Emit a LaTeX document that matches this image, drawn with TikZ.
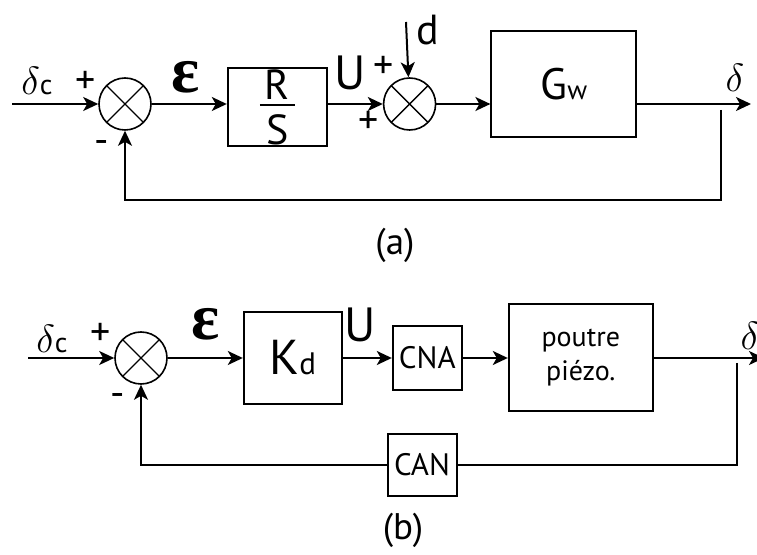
\documentclass[tikz,border=0pt]{standalone}
\usepackage{fontspec}
\setmainfont{PT Sans}
\newfontfamily\grkfont{Liberation Serif}
\usetikzlibrary{arrows.meta,positioning}
\newcommand\eps{{\grkfont\bfseries\fontsize{66}{66}\selectfont ε}}
\newcommand\dlt{\scalebox{1.9}{\fontsize{20.74}{24}\selectfont$\delta$}}
\tikzset{
  % Block
  BLK/.style={rectangle,draw,line width=2pt,inner sep=0pt,align=center,
              font=\fontsize{44}{44}\selectfont},
  % Summing junction
  SUM/.style={circle,draw,line width=1.6pt,minimum size=52pt,inner sep=0pt,
              path picture={
                \draw[line width=1.3pt]
                  (path picture bounding box.north west)--(path picture bounding box.south east)
                  (path picture bounding box.south west)--(path picture bounding box.north east);}},
  % Arrow / plain line
  arr/.style={-{Stealth[length=15pt,width=14pt,inset=4pt]},line width=2pt},
  ln/.style={line width=2pt},
  % Label styles
  SG/.style={inner sep=0pt,font=\fontsize{40}{40}\selectfont},
  LB/.style={inner sep=0pt,font=\fontsize{48}{48}\selectfont}
}

\begin{document}
\begin{tikzpicture}[x=1pt,y=1pt]
  \useasboundingbox (0,0) rectangle (757,554);

  %------ (a): R/S LOOP ------
  \node[SUM] (sa) at (125,450) {};
  \node[BLK,minimum width=99pt,minimum height=78pt,right=75pt of sa,yshift=-3pt,
        font=\fontsize{42}{42}\selectfont] (rs)
    {R\\[-35pt]\rule{35pt}{2pt}\\[-4pt]S};
  \node[SUM,right=55pt of rs,yshift=3pt] (sa2) {};
  \node[BLK,minimum width=145pt,minimum height=106pt,right=54pt of sa2,yshift=20pt] (gw)
    {G{\fontsize{27}{27}\selectfont w}};

  \coordinate (inA)  at (12,450);
  \coordinate (dA)   at (406,532);
  \coordinate (outA) at (751,450);
  \coordinate (fbA)  at (721,444);
  \coordinate (fbA2) at (721,354);

  % signs and labels
  \node[SG] (pa1) at (86,472)  {+};
  \node[SG] (ma1) at (102,407) {-};
  \node[SG] (pa2) at (384,487) {+};
  \node[SG] (pa3) at (369,432) {+};
  \node[LB,font=\fontsize{42}{42}\selectfont] (dd) at (428,524) {d};
  \node[LB] (dca) at (37,473) {\dlt{\fontsize{28}{28}\selectfont c}};
  \node[LB] (dla) at (735,476) {\dlt};
  \node[LB,font=\fontsize{37}{37}\selectfont] (capa) at (395,309) {(a)};

  % (a) arrows
  \draw[arr](inA)--(sa);
  \draw[arr](sa)--node[LB,above=10pt,pos=0.45](epa){\eps}(sa -| rs.west);
  \draw[arr](rs.east |- sa2)--node[LB,above=13pt,pos=0.4](ua){U}(sa2);
  \draw[arr](dA)--(sa2);
  \draw[arr](sa2)--(sa2 -| gw.west);
  \draw[arr](gw.east |- outA)--(outA);
  \draw[arr](fbA)--(fbA2)-|(sa);

  %------ (b): DIGITAL LOOP ------
  \node[SUM] (sb) at (141,196) {};
  \node[BLK,minimum width=98pt,minimum height=92pt,right=75pt of sb,
        font=\fontsize{49}{49}\selectfont] (kd) {K{\fontsize{31}{31}\selectfont d}};
  \node[BLK,minimum width=69pt,minimum height=64pt,right=49pt of kd,
        font=\fontsize{31}{31}\selectfont] (cna) {CNA};
  \node[BLK,minimum width=144pt,minimum height=107pt,right=45pt of cna,
        font=\fontsize{28}{34}\selectfont] (pz) {poutre\\piézo.};
  \node[BLK,minimum width=69pt,minimum height=62pt,
        font=\fontsize{31}{31}\selectfont] (can) at (422,89) {CAN};

  \coordinate (inB)  at (28,196);
  \coordinate (outB) at (764,196);
  \coordinate (fbB)  at (737,191);
  \coordinate (fbB2) at (737,89);

  % signs and labels
  \node[SG] (pb1) at (101,220) {+};
  \node[SG] (mb1) at (118,154) {-};
  \node[LB] (dcb) at (52,215)  {\dlt{\fontsize{28}{28}\selectfont c}};
  \node[LB] (dlb) at (750,218) {\dlt};
  \node[LB,font=\fontsize{37}{37}\selectfont] (capb) at (403,24) {(b)};

  % (b) arrows
  \draw[arr](inB)--(sb);
  \draw[arr](sb)--node[LB,above=17pt](epb){\eps}(kd);
  \draw[arr](kd)--node[LB,above=15pt,pos=0.35](ub){U}(cna);
  \draw[arr](cna)--(pz);
  \draw[arr](pz)--(outB);
  \draw[ln](fbB)--(fbB2)--(can);
  \draw[arr](can)-|(sb);
\end{tikzpicture}
\end{document}
